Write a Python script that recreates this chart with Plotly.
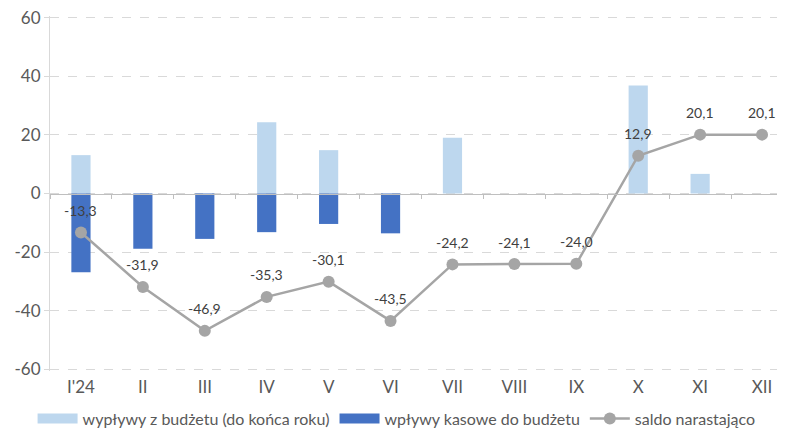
import plotly.graph_objects as go

categories = ["I'24", "II", "III", "IV", "V", "VI", "VII", "VIII", "IX", "X", "XI", "XII"]
outflows = [13.1, None, None, 24.3, 14.8, None, 19.0, None, None, 36.9, 6.7, None]
inflows = [-26.9, -18.9, -15.5, -13.2, -10.4, -13.6, None, None, None, None, None, None]
saldo = [-13.3, -31.9, -46.9, -35.3, -30.1, -43.5, -24.2, -24.1, -24.0, 12.9, 20.1, 20.1]
y_ticks = [-60, -40, -20, 0, 20, 40, 60]
y_ticktext = ["-60", "-40", "-20", "0", "20", "40", "60"]

names = ["wypływy z budżetu (do końca roku)", "wpływy kasowe do budżetu", "saldo narastająco"]
colors = ["#BDD7EE", "#4472C4", "#A5A5A5"]

FONT = "Lato"
TXT = "#595959"
GRID = "#D9D9D9"

saldo_text = [("{:.1f}".format(v)).replace(".", ",") for v in saldo]

fig = go.Figure()
fig.add_trace(go.Bar(x=categories, y=outflows, name=names[0], showlegend=False,
                     marker=dict(color=colors[0], line=dict(width=0)), width=0.31))
fig.add_trace(go.Bar(x=categories, y=inflows, name=names[1], showlegend=False,
                     marker=dict(color=colors[1], line=dict(width=0)), width=0.31))
# legend proxies (wide swatches like the original)
fig.add_trace(go.Scatter(x=[None], y=[None], name=names[0], mode="lines",
                         line=dict(color=colors[0], width=12)))
fig.add_trace(go.Scatter(x=[None], y=[None], name=names[1], mode="lines",
                         line=dict(color=colors[1], width=12)))
fig.add_trace(go.Scatter(x=categories, y=saldo, name=names[2], xaxis="x2",
                         mode="lines+markers",
                         line=dict(color=colors[2], width=2.5),
                         marker=dict(color=colors[2], size=12)))

for c, v, t in zip(categories, saldo, saldo_text):
    fig.add_annotation(x=c, y=v, xref="x2", yref="y", text=t, showarrow=False,
                       yshift=22, font=dict(family=FONT, size=14, color="#404040"))

xr = [-0.5, 11.5]
fig.update_layout(
    width=785, height=432,
    margin=dict(l=42, r=0, t=8, b=69, autoexpand=False),
    plot_bgcolor="white", paper_bgcolor="white",
    barmode="relative",
    font=dict(family=FONT, color=TXT, size=13),
    showlegend=True,
    legend=dict(orientation="h", xref="container", x=0.495, xanchor="center",
                yref="container", y=0.01, yanchor="bottom",
                font=dict(family=FONT, size=16, color=TXT),
                traceorder="normal", itemwidth=40),
    xaxis=dict(type="category", range=xr, showgrid=False, zeroline=False, automargin=False,
               showline=False, ticks="", ticklabelstandoff=4,
               tickfont=dict(family=FONT, size=17, color=TXT)),
    xaxis2=dict(type="category", range=xr, overlaying="x", anchor="free", position=0.5,
                showgrid=False, zeroline=False, showline=True, linecolor="#BFBFBF",
                linewidth=1, ticks="outside", tickson="boundaries", ticklen=4,
                tickcolor="#BFBFBF", showticklabels=False, automargin=False),
    yaxis=dict(range=[-60.6, 60.6], tickvals=y_ticks, ticktext=y_ticktext, automargin=False,
               showgrid=True, gridcolor=GRID, griddash="dash", gridwidth=1,
               zeroline=False, showline=True, linecolor=GRID, linewidth=1,
               ticks="outside", ticklen=5, tickcolor=GRID, ticklabeloverflow="allow",
               tickfont=dict(family=FONT, size=17, color=TXT)),
)

fig.write_html("out.html")
